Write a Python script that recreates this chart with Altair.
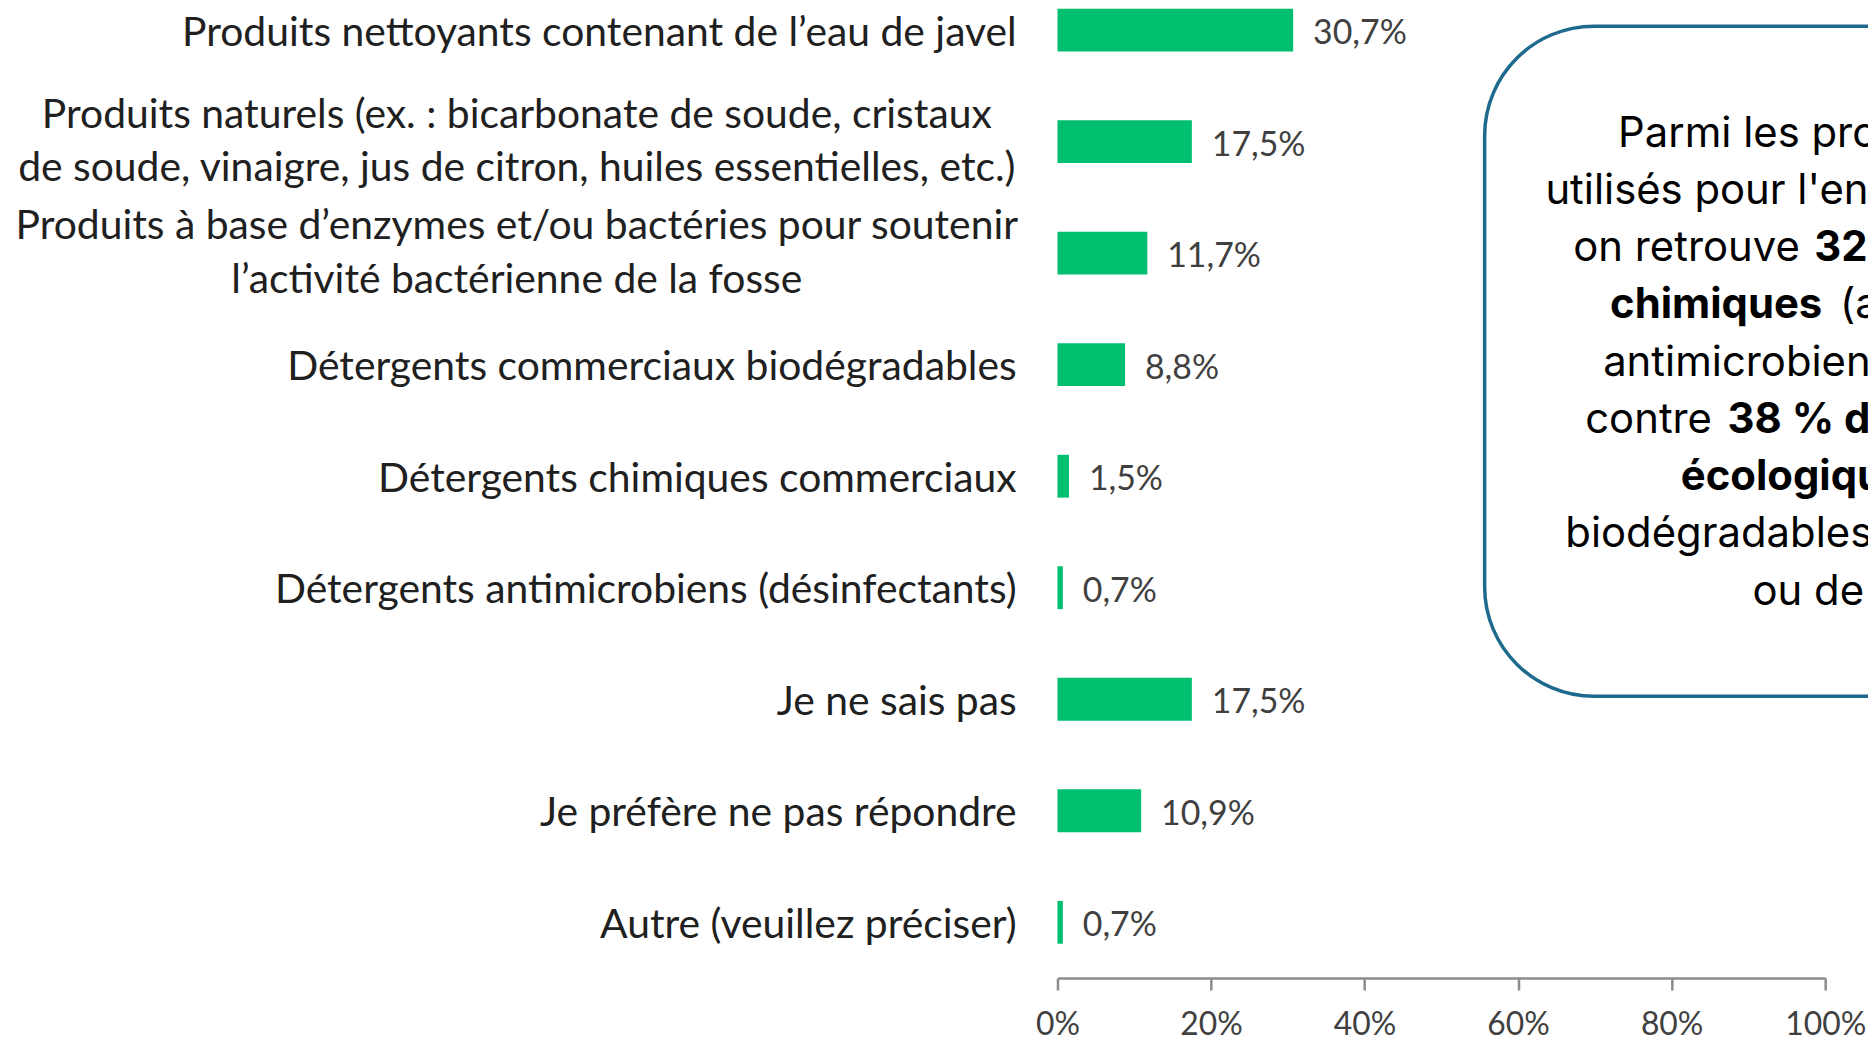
import altair as alt
import pandas as pd

# ---- data ----
categories = [
    "Produits nettoyants contenant de l’eau de javel",
    "Produits naturels (ex. : bicarbonate de soude, cristaux\nde soude, vinaigre, jus de citron, huiles essentielles, etc.)",
    "Produits à base d’enzymes et/ou bactéries pour soutenir\nl’activité bactérienne de la fosse",
    "Détergents commerciaux biodégradables",
    "Détergents chimiques commerciaux",
    "Détergents antimicrobiens (désinfectants)",
    "Je ne sais pas",
    "Je préfère ne pas répondre",
    "Autre (veuillez préciser)",
]
values = [30.7, 17.5, 11.7, 8.8, 1.5, 0.7, 17.5, 10.9, 0.7]
tick_values = [0, 20, 40, 60, 80, 100]

df = pd.DataFrame({"cat": categories, "value": values})
df["label"] = [f"{v:.1f}".replace(".", ",") + "%" for v in values]
df["multi"] = ["\n" in c for c in categories]

LABEL_FONT = "Lato, Liberation Sans, sans-serif"
BOX_FONT = "Inter, Lato, sans-serif"
GREEN = "#00BF6F"

y_enc = alt.Y(
    "cat:N",
    sort=categories,
    axis=None,
    scale=alt.Scale(range=[-36, 972], paddingInner=0.616, paddingOuter=0.308),
)

base = alt.Chart(df)

bars = base.mark_bar(color=GREEN).encode(
    x=alt.X(
        "value:Q",
        scale=alt.Scale(domain=[0, 100], nice=False),
        axis=alt.Axis(
            values=tick_values,
            labelExpr="datum.value + '%'",
            grid=False,
            title=None,
            domainColor="#8c8c8c",
            domainWidth=2.5,
            tickColor="#8c8c8c",
            tickWidth=2.5,
            tickSize=12,
            labelFont=LABEL_FONT,
            labelFontSize=32,
            labelColor="#404040",
            labelBaseline="middle",
            labelPadding=35,
            labelFlush=False,
            labelOverlap=False,
        ),
    ),
    y=y_enc,
)

value_text = base.mark_text(
    align="left", baseline="middle", dx=20, dy=4, font=LABEL_FONT, fontSize=34, color="#404040"
).encode(x="value:Q", y=y_enc, text="label:N")

single_labels = base.transform_filter("!datum.multi").mark_text(
    align="right", baseline="middle", dy=3.5, font=LABEL_FONT, fontSize=41, color="#202020"
).encode(x=alt.value(-41), y=y_enc, text="cat:N")

multi_labels = base.transform_filter("datum.multi").mark_text(
    align="center", baseline="middle", dy=-26, font=LABEL_FONT, fontSize=41, color="#202020",
    lineBreak="\n", lineHeight=54,
).encode(x=alt.value(-543), y=y_enc, text="cat:N")

# ---- annotation box ----
OX, OY = 1057, 8  # page position of plot origin
box = alt.Chart(pd.DataFrame({"a": [0]})).mark_rect(
    cornerRadius=110, fill="white", stroke="#1E6A8D", strokeWidth=3.5
).encode(
    x=alt.value(1486 - OX), x2=alt.value(2400 - OX),
    y=alt.value(24 - OY), y2=alt.value(697 - OY),
)

segments = [
    ("Parmi les produits", 1620, 145, "normal"),
    ("utilisés pour l'entretien", 1547, 202.5, "normal"),
    ("on retrouve", 1575, 260, "normal"),
    ("32,9 % de produits", 1817, 260, "bold"),
    ("chimiques", 1612, 317.5, "bold"),
    ("(agressifs,", 1843, 317.5, "normal"),
    ("antimicrobiens)", 1605, 375, "normal"),
    ("contre", 1587, 432.5, "normal"),
    ("38 %", 1730, 432.5, "bold"),
    ("de produits", 1847, 432.5, "bold"),
    ("écologiques", 1683, 490, "bold"),
    ("biodégradables, naturels", 1567, 547.5, "normal"),
    ("ou de type enzymatique)", 1755, 605, "normal"),
]
seg_layers = []
for txt, px, py, w in segments:
    seg_layers.append(
        alt.Chart(pd.DataFrame({"t": [txt]})).mark_text(
            align="left", baseline="alphabetic", font=BOX_FONT, fontSize=42,
            fontWeight=w, color="#000000",
        ).encode(x=alt.value(px - OX), y=alt.value(py - OY), text="t:N")
    )

chart = alt.layer(bars, value_text, single_labels, multi_labels, box, *seg_layers).properties(
    width=771,
    height=972,
    padding={"left": 1054, "top": 0, "right": 43, "bottom": 61},
    autosize=alt.AutoSizeParams(type="none"),
).configure_view(stroke=None)

chart.save("out.html", embed_options={"renderer": "svg", "actions": False})
